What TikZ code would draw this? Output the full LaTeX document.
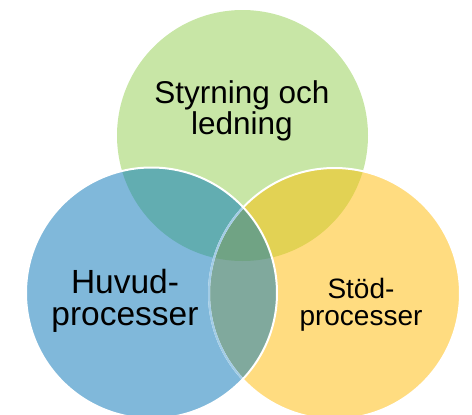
\documentclass[tikz,border=0pt]{standalone}
\usepackage{fontspec}
\setmainfont{Liberation Sans}
\definecolor{cG}{HTML}{C8E6A6}
\definecolor{cB}{HTML}{80B8DA}
\definecolor{cY}{HTML}{FFDC80}
\definecolor{cGB}{HTML}{62ADB1}
\definecolor{cGY}{HTML}{E2D254}
\definecolor{cBY}{HTML}{80A99D}
\definecolor{cGBY}{HTML}{70A384}
\definecolor{cLine}{HTML}{A2CCE6}
\tikzset{lbl/.style={align=center,text=black,inner sep=0pt}}
\begin{document}
\begin{tikzpicture}[x=1pt,y=-1pt]
\useasboundingbox (0,0) rectangle (472,415);
\clip (0,0) rectangle (472,415);
\coordinate (g) at (242.5,135.5);
\coordinate (b) at (151.5,293);
\coordinate (y) at (334.5,293.5);
\def\R{125.5}
% solo fills
\fill[cG] (g) circle[radius=\R];
\fill[cB] (b) circle[radius=\R];
\fill[cY] (y) circle[radius=\R];
% pairwise overlaps
\begin{scope}\clip (g) circle[radius=\R]; \fill[cGB] (b) circle[radius=\R]; \fill[cGY] (y) circle[radius=\R];\end{scope}
\begin{scope}\clip (b) circle[radius=\R]; \fill[cBY] (y) circle[radius=\R];\end{scope}
\begin{scope}\clip (g) circle[radius=\R]; \clip (b) circle[radius=\R]; \fill[cGBY] (y) circle[radius=\R];\end{scope}
% outlines
\draw[white,line width=2pt] (y) circle[radius=\R];
\begin{scope}\clip (b) circle[radius=\R]; \draw[cLine,line width=2pt] (y) circle[radius=\R];\end{scope}
\draw[white,line width=2pt] (b) circle[radius=\R];
% labels (anchor=base is the baseline of the last line)
\node[lbl,font=\fontsize{31.5}{31}\selectfont,anchor=base] (tg) at (242,134) {Styrning och\\ledning};
\node[lbl,font=\fontsize{33.5}{32.5}\selectfont,anchor=base] (tb) at (125,325.5) {Huvud-\\processer};
\node[lbl,font=\fontsize{28}{27.5}\selectfont,anchor=base] (ty) at (361,325.5) {Stöd-\\processer};
\end{tikzpicture}
\end{document}
